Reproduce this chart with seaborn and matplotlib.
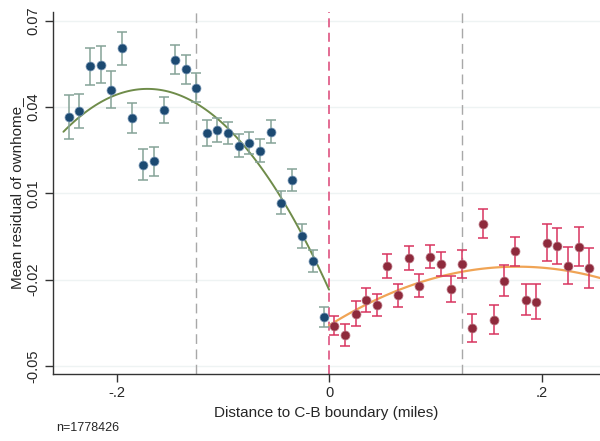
import numpy as np
import pandas as pd
import matplotlib
matplotlib.use("Agg")
import matplotlib.pyplot as plt
import seaborn as sns

# binned means, 0.01-mile bins on each side of the boundary
left_x = [-0.245, -0.235, -0.225, -0.215, -0.205, -0.195, -0.185, -0.175, -0.165,
          -0.155, -0.145, -0.135, -0.125, -0.115, -0.105, -0.095, -0.085, -0.075,
          -0.065, -0.055, -0.045, -0.035, -0.025, -0.015, -0.005]
left_y = [0.0365, 0.0387, 0.0542, 0.0548, 0.0461, 0.0604, 0.0362, 0.0200, 0.0211,
          0.0390, 0.0565, 0.0531, 0.0467, 0.0309, 0.0321, 0.0309, 0.0266, 0.0275,
          0.0249, 0.0315, 0.0068, 0.0147, -0.0048, -0.0134, -0.0331]
left_err = [0.0076, 0.0059, 0.0064, 0.0065, 0.0063, 0.0058, 0.0051, 0.0053, 0.0049,
            0.0046, 0.0050, 0.0049, 0.0050, 0.0045, 0.0042, 0.0039, 0.0041, 0.0039,
            0.0040, 0.0040, 0.0039, 0.0039, 0.0041, 0.0038, 0.0035]

right_x = [0.005, 0.015, 0.025, 0.035, 0.045, 0.055, 0.065, 0.075, 0.085,
           0.095, 0.105, 0.115, 0.125, 0.135, 0.145, 0.155, 0.165, 0.175,
           0.185, 0.195, 0.205, 0.215, 0.225, 0.235, 0.245]
right_y = [-0.0360, -0.0392, -0.0318, -0.0270, -0.0289, -0.0152, -0.0255, -0.0124, -0.0222,
           -0.0120, -0.0146, -0.0232, -0.0146, -0.0367, -0.0005, -0.0339, -0.0203, -0.0102,
           -0.0270, -0.0277, -0.0072, -0.0084, -0.0152, -0.0085, -0.0160]
right_err = [0.0034, 0.0039, 0.0043, 0.0041, 0.0038, 0.0042, 0.0040, 0.0041, 0.0040,
             0.0040, 0.0043, 0.0045, 0.0049, 0.0049, 0.0050, 0.0050, 0.0055, 0.0052,
             0.0054, 0.0061, 0.0064, 0.0063, 0.0064, 0.0069, 0.0069]

yticks = [-0.05, -0.02, 0.01, 0.04, 0.07]
ytick_labels = ["-0.05", "-0.02", "0.01", "0.04", "0.07"]
xticks = [-0.2, 0, 0.2]
xtick_labels = ["-.2", "0", ".2"]
n_obs = 1778426

sns.set_style("white")
plt.rcParams["font.family"] = ["Liberation Sans", "DejaVu Sans"]

left = pd.DataFrame({"x": left_x, "y": left_y, "err": left_err})
right = pd.DataFrame({"x": right_x, "y": right_y, "err": right_err})

fig = plt.figure(figsize=(6, 4.41), dpi=100)
ax = fig.add_axes([0.088, 0.152, 0.912, 0.821])

for yt in yticks:
    ax.axhline(yt, color="#eef3f3", lw=1, zorder=0)

ax.axvline(-0.125, color="#a8a8a8", lw=1, ls=(0, (7, 4)), zorder=1)
ax.axvline(0.125, color="#a8a8a8", lw=1, ls=(0, (7, 4)), zorder=1)
ax.axvline(0, color="#e0608a", lw=1.3, ls=(0, (5, 3)), zorder=1)

# quadratic fits on each side, bins weighted by precision
cl = np.polyfit(left["x"], left["y"], 2, w=1 / left["err"])
gl = np.linspace(-0.25, 0, 100)
sns.lineplot(x=gl, y=np.polyval(cl, gl), color="#6f8c4a", lw=1.4, ax=ax, zorder=2)
cr = np.polyfit(right["x"], right["y"], 2, w=1 / right["err"])
gr = np.linspace(0, 0.255, 100)
sns.lineplot(x=gr, y=np.polyval(cr, gr), color="#f0a455", lw=1.6, ax=ax, zorder=2)

ax.errorbar(left["x"], left["y"], yerr=left["err"], fmt="none", ecolor="#85a397",
            elinewidth=1.1, capsize=3.5, capthick=1.1, zorder=3)
ax.errorbar(right["x"], right["y"], yerr=right["err"], fmt="none", ecolor="#d8345f",
            elinewidth=1.1, capsize=3.5, capthick=1.1, zorder=3)

sns.scatterplot(data=left, x="x", y="y", color="#1c4a72", s=42, edgecolor="#7f9cb8",
                linewidth=0.5, ax=ax, zorder=4)
sns.scatterplot(data=right, x="x", y="y", color="#8e2a3c", s=42, edgecolor="#c07f8c",
                linewidth=0.5, ax=ax, zorder=4)

ax.set_xlim(-0.26, 0.255)
ax.set_ylim(-0.0528, 0.0731)
ax.set_xticks(xticks)
ax.set_xticklabels(xtick_labels, fontsize=10.5)
ax.set_yticks(yticks)
ax.set_yticklabels(ytick_labels, fontsize=10.5, rotation=90, va="center")
ax.tick_params(axis="both", direction="out", length=6, width=1, color="#333333",
               left=True, bottom=True, pad=3)

for s in ["top", "right"]:
    ax.spines[s].set_visible(False)
for s in ["left", "bottom"]:
    ax.spines[s].set_color("#333333")
    ax.spines[s].set_linewidth(1)

ax.set_xlabel("Distance to C-B boundary (miles)", fontsize=11)
ax.set_ylabel("Mean residual of ownhome_", fontsize=11, labelpad=2)
fig.text(0.093, 0.03, "n=" + str(n_obs), fontsize=9, va="center")

fig.savefig("out.png", dpi=100)
